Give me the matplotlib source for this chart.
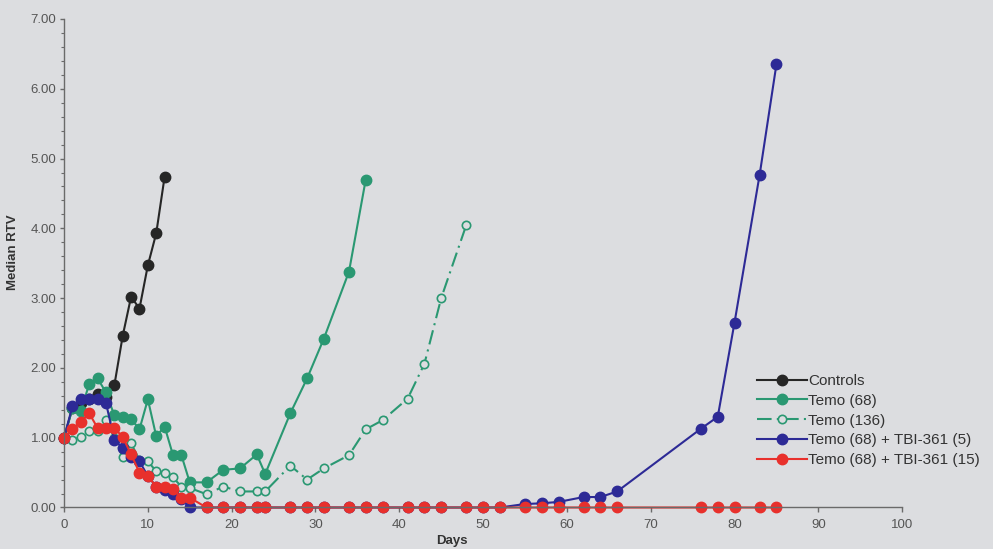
import matplotlib
matplotlib.use("Agg")
import matplotlib.pyplot as plt
from matplotlib.ticker import MultipleLocator, FormatStrFormatter

plt.rcParams['font.family'] = ['Liberation Sans', 'DejaVu Sans']

# median relative tumour volume per treatment group
days_ctrl = [0, 1, 2, 3, 4, 5, 6, 7, 8, 9, 10, 11, 12]
rtv_ctrl = [1.00, 1.42, 1.50, 1.55, 1.62, 1.58, 1.75, 2.46, 3.02, 2.85, 3.47, 3.93, 4.74]

days_t68 = [0, 1, 2, 3, 4, 5, 6, 7, 8, 9, 10, 11, 12, 13, 14, 15, 17, 19, 21, 23, 24,
            27, 29, 31, 34, 36]
rtv_t68 = [1.00, 1.42, 1.38, 1.77, 1.85, 1.65, 1.32, 1.30, 1.27, 1.12, 1.55, 1.02, 1.16,
           0.75, 0.75, 0.36, 0.36, 0.54, 0.56, 0.76, 0.48, 1.35, 1.85, 2.42, 3.38, 4.70]

days_t136 = [0, 1, 2, 3, 4, 5, 6, 7, 8, 9, 10, 11, 12, 13, 14, 15, 17, 19, 21, 23, 24,
             27, 29, 31, 34, 36, 38, 41, 43, 45, 48]
rtv_t136 = [1.00, 0.97, 1.01, 1.10, 1.09, 1.26, 1.00, 0.72, 0.92, 0.68, 0.66, 0.52, 0.50,
            0.43, 0.30, 0.28, 0.19, 0.30, 0.23, 0.23, 0.23, 0.60, 0.40, 0.56, 0.75, 1.12,
            1.25, 1.56, 2.06, 3.00, 4.05]

days_tbi = [0, 1, 2, 3, 4, 5, 6, 7, 8, 9, 10, 11, 12, 13, 14, 15, 17, 19, 21, 23, 24,
            27, 29, 31, 34, 36, 38, 41, 43, 45, 48, 50, 52, 55, 57, 59, 62, 64, 66,
            76, 78, 80, 83, 85]
rtv_tbi5 = [1.00, 1.45, 1.55, 1.55, 1.55, 1.50, 0.97, 0.85, 0.72, 0.66, 0.45, 0.30, 0.25,
            0.20, 0.12, 0.00, 0.00, 0.00, 0.00, 0.00, 0.00, 0.00, 0.00, 0.00, 0.00, 0.00,
            0.00, 0.00, 0.00, 0.00, 0.00, 0.00, 0.00, 0.05, 0.06, 0.08, 0.15, 0.15, 0.23,
            1.13, 1.30, 2.65, 4.77, 6.35]
rtv_tbi15 = [1.00, 1.12, 1.23, 1.35, 1.14, 1.14, 1.14, 1.01, 0.76, 0.50, 0.45, 0.30, 0.30,
             0.26, 0.14, 0.14, 0.00, 0.00, 0.00, 0.00, 0.00, 0.00, 0.00, 0.00, 0.00, 0.00,
             0.00, 0.00, 0.00, 0.00, 0.00, 0.00, 0.00, 0.00, 0.00, 0.00, 0.00, 0.00, 0.00,
             0.00, 0.00, 0.00, 0.00, 0.00]

bg = '#dcdde0'
fig = plt.figure(figsize=(9.93, 5.49), dpi=100, facecolor=bg)
ax = fig.add_axes([0.0645, 0.0756, 0.844, 0.8898], facecolor=bg)

ms = 7.5
lw = 1.5
ax.plot(days_ctrl, rtv_ctrl, color='#262626', lw=lw, marker='o', ms=ms, label='Controls')
ax.plot(days_t68, rtv_t68, color='#2a9872', lw=lw, marker='o', ms=ms, label='Temo (68)')
ax.plot(days_t136, rtv_t136, color='#2a9872', lw=lw, ls=(0, (7, 2.5, 1, 2.5)),
        marker='o', ms=6, mfc=bg, mew=1.2, label='Temo (136)')
ax.plot(days_tbi, rtv_tbi5, color='#2d2a96', lw=lw, marker='o', ms=ms,
        label='Temo (68) + TBI-361 (5)')
ax.plot(days_tbi, rtv_tbi15, color='#e8302c', lw=lw, marker='o', ms=ms,
        label='Temo (68) + TBI-361 (15)')

ax.set_xlim(0, 100)
ax.set_ylim(0, 7)
ax.xaxis.set_major_locator(MultipleLocator(10))
ax.yaxis.set_major_locator(MultipleLocator(1))
ax.yaxis.set_minor_locator(MultipleLocator(0.2))
ax.yaxis.set_major_formatter(FormatStrFormatter('%.2f'))

for s in ['top', 'right']:
    ax.spines[s].set_visible(False)
for s in ['left', 'bottom']:
    ax.spines[s].set_color('#6a6a6a')
    ax.spines[s].set_linewidth(1.0)
ax.tick_params(axis='both', which='major', width=1, color='#6a6a6a',
               labelcolor='#555555', labelsize=9.5)
ax.tick_params(axis='x', which='major', length=3.5, pad=5)
ax.tick_params(axis='y', which='major', length=3, pad=2.5)
ax.tick_params(axis='y', which='minor', length=2.5, width=0.8, color='#6a6a6a')
for ln in ax.lines:
    ln.set_clip_on(False)

fig.text(452 / 993, 1 - 541 / 549, 'Days', fontsize=9.5, fontweight='bold',
         color='#333333', ha='center', va='center')
fig.text(13 / 993, 1 - 252 / 549, 'Median RTV', fontsize=9.5, fontweight='bold',
         color='#333333', ha='center', va='center', rotation=90)

leg = fig.legend(loc='upper left', bbox_to_anchor=(757 / 993, 1 - 374 / 549),
                 frameon=False, fontsize=11, handlelength=3.3, handletextpad=0.05,
                 labelspacing=0.38, numpoints=1, borderaxespad=0, borderpad=0)
for t in leg.get_texts():
    t.set_color('#333333')

fig.savefig('out.png', dpi=100, facecolor=bg)
